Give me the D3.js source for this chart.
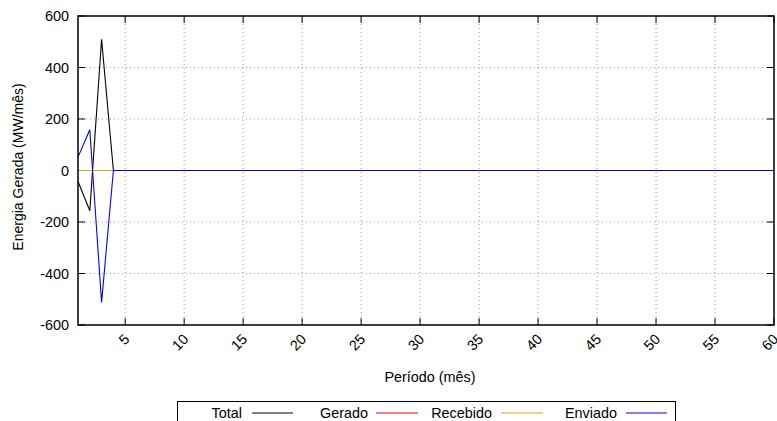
<!DOCTYPE html>
<html><head><meta charset="utf-8">
<script src="https://cdn.jsdelivr.net/npm/d3@7"></script>
<style>body{margin:0;background:#fff}svg{display:block}text{font-family:"Liberation Sans",Arial,sans-serif;fill:#000}</style>
</head><body><svg id="c" width="777" height="421"></svg>
<script>
const periods = d3.range(1, 61);
const seriesNames = ["Total", "Gerado", "Recebido", "Enviado"];
const seriesColors = ["#000000", "#ff0000", "#e6a020", "#0000ff"];
const totalHead = [-43, -156, 510, 0];
const enviadoHead = [52, 158, -512, 0];
const totalValues = periods.map((p, i) => i < totalHead.length ? totalHead[i] : 0);
const geradoValues = periods.map(() => 0);
const recebidoValues = periods.map(() => 0);
const enviadoValues = periods.map((p, i) => i < enviadoHead.length ? enviadoHead[i] : 0);
const xTicks = [5,10,15,20,25,30,35,40,45,50,55,60];
const yTicks = [-600,-400,-200,0,200,400,600];

const svg = d3.select("#c");
const L = 78, R = 774, T = 16, B = 325;
const x = d3.scaleLinear().domain([1, 60]).range([L, R]);
const y = d3.scaleLinear().domain([-600, 600]).range([B, T]);

// grid
const g = svg.append("g");
g.selectAll(".gx").data(xTicks.filter(t => t < 60)).enter().append("line")
  .attr("x1", d => x(d)).attr("x2", d => x(d)).attr("y1", T).attr("y2", B)
  .attr("stroke", "#999").attr("stroke-width", 1).attr("stroke-dasharray", "1,3");
g.selectAll(".gy").data(yTicks.filter(t => t > -600 && t < 600)).enter().append("line")
  .attr("x1", L).attr("x2", R).attr("y1", d => y(d)).attr("y2", d => y(d))
  .attr("stroke", "#999").attr("stroke-width", 1).attr("stroke-dasharray", "1,3");

// tick marks (inward, mirrored)
const tk = svg.append("g").attr("stroke", "#000").attr("stroke-width", 1);
xTicks.forEach(t => {
  tk.append("line").attr("x1", x(t)).attr("x2", x(t)).attr("y1", B).attr("y2", B - 7);
  tk.append("line").attr("x1", x(t)).attr("x2", x(t)).attr("y1", T).attr("y2", T + 7);
});
yTicks.forEach(t => {
  tk.append("line").attr("x1", L).attr("x2", L + 7).attr("y1", y(t)).attr("y2", y(t));
  tk.append("line").attr("x1", R).attr("x2", R - 7).attr("y1", y(t)).attr("y2", y(t));
});

// data lines
const allValues = [totalValues, geradoValues, recebidoValues, enviadoValues];
const line = d3.line().x((d, i) => x(periods[i])).y(d => y(d));
allValues.forEach((vals, k) => {
  svg.append("path").attr("d", line(vals)).attr("fill", "none")
    .attr("stroke", seriesColors[k]).attr("stroke-width", 1.1);
});

// border
svg.append("rect").attr("x", L).attr("y", T).attr("width", R - L).attr("height", B - T)
  .attr("fill", "none").attr("stroke", "#000").attr("stroke-width", 1.5);

// y tick labels
svg.selectAll(".yl").data(yTicks).enter().append("text")
  .attr("x", L - 9).attr("y", d => y(d) + 5).attr("text-anchor", "end")
  .attr("font-size", 14.4).text(d => d);

// x tick labels rotated
svg.selectAll(".xl").data(xTicks).enter().append("text")
  .attr("transform", d => `translate(${x(d) - 2},${B + 8}) rotate(-45)`)
  .attr("text-anchor", "end").attr("font-size", 14.4).attr("dy", "0.7em").text(d => d);

// axis titles
svg.append("text").attr("x", (L + R) / 2 + 4).attr("y", 382).attr("text-anchor", "middle")
  .attr("font-size", 14.4).text("Período (mês)");
svg.append("text").attr("transform", "translate(23,167) rotate(-90)").attr("text-anchor", "middle")
  .attr("font-size", 14).text("Energia Gerada (MW/mês)");

// legend
svg.append("rect").attr("x", 177.5).attr("y", 401.5).attr("width", 498).attr("height", 30)
  .attr("fill", "none").attr("stroke", "#000").attr("stroke-width", 1);
const legTextEnd = [242, 368, 492, 617];
const legLine = [[252, 293], [376, 418], [501, 543], [626, 667]];
seriesNames.forEach((n, k) => {
  svg.append("text").attr("x", legTextEnd[k]).attr("y", 418).attr("text-anchor", "end")
    .attr("font-size", 14.4).text(n);
  svg.append("line").attr("x1", legLine[k][0]).attr("x2", legLine[k][1]).attr("y1", 413).attr("y2", 413)
    .attr("stroke", seriesColors[k]).attr("stroke-width", 1.1);
});
</script></body></html>
